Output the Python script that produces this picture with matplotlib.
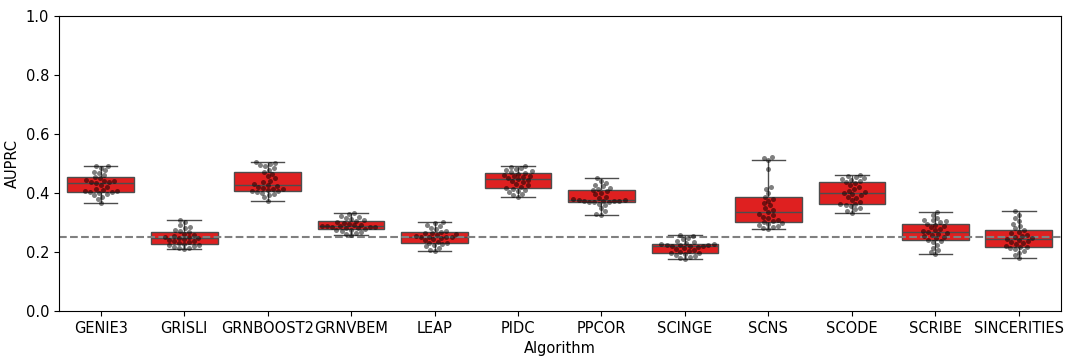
import matplotlib
matplotlib.use("Agg")
import matplotlib.pyplot as plt
import seaborn as sns
import pandas as pd

algorithms = ["GENIE3", "GRISLI", "GRNBOOST2", "GRNVBEM", "LEAP", "PIDC",
              "PPCOR", "SCINGE", "SCNS", "SCODE", "SCRIBE", "SINCERITIES"]

genie3 = [0.366, 0.380, 0.388, 0.392, 0.398, 0.400, 0.402, 0.403, 0.405, 0.408, 0.410, 0.415, 0.421, 0.428, 0.434,
          0.436, 0.438, 0.440, 0.442, 0.445, 0.450, 0.454, 0.462, 0.468, 0.472, 0.478, 0.485, 0.490, 0.492]
grisli = [0.210, 0.212, 0.215, 0.218, 0.220, 0.223, 0.225, 0.227, 0.230, 0.233, 0.236, 0.238, 0.240, 0.244, 0.247,
          0.248, 0.250, 0.252, 0.255, 0.258, 0.262, 0.268, 0.272, 0.276, 0.280, 0.285, 0.290, 0.300, 0.308]
grnboost2 = [0.373, 0.385, 0.392, 0.398, 0.401, 0.403, 0.405, 0.407, 0.410, 0.413, 0.415, 0.418, 0.420, 0.424, 0.427,
             0.430, 0.436, 0.442, 0.450, 0.458, 0.465, 0.471, 0.478, 0.484, 0.490, 0.494, 0.498, 0.502, 0.505]
grnvbem = [0.258, 0.262, 0.265, 0.268, 0.271, 0.274, 0.276, 0.278, 0.280, 0.281, 0.283, 0.284, 0.285, 0.287, 0.288,
           0.289, 0.291, 0.293, 0.296, 0.299, 0.302, 0.305, 0.308, 0.312, 0.315, 0.319, 0.323, 0.328, 0.332]
leap = [0.203, 0.208, 0.214, 0.219, 0.223, 0.226, 0.229, 0.231, 0.235, 0.240, 0.244, 0.248, 0.250, 0.250, 0.251,
        0.252, 0.254, 0.257, 0.260, 0.263, 0.265, 0.268, 0.272, 0.277, 0.282, 0.288, 0.293, 0.298, 0.302]
pidc = [0.387, 0.392, 0.398, 0.403, 0.407, 0.411, 0.414, 0.417, 0.421, 0.426, 0.431, 0.436, 0.440, 0.444, 0.447,
        0.450, 0.453, 0.456, 0.459, 0.462, 0.465, 0.468, 0.471, 0.474, 0.477, 0.480, 0.484, 0.488, 0.492]
ppcor = [0.326, 0.330, 0.338, 0.348, 0.358, 0.364, 0.368, 0.370, 0.371, 0.372, 0.372, 0.373, 0.374, 0.375, 0.376,
         0.378, 0.382, 0.388, 0.395, 0.401, 0.406, 0.410, 0.414, 0.418, 0.422, 0.427, 0.434, 0.442, 0.451]
scinge = [0.176, 0.180, 0.184, 0.187, 0.190, 0.193, 0.195, 0.197, 0.201, 0.205, 0.208, 0.211, 0.214, 0.217, 0.220,
          0.221, 0.222, 0.223, 0.224, 0.225, 0.226, 0.227, 0.230, 0.234, 0.238, 0.243, 0.248, 0.253, 0.258]
scns = [0.278, 0.282, 0.286, 0.289, 0.292, 0.296, 0.299, 0.302, 0.306, 0.310, 0.315, 0.320, 0.325, 0.330, 0.336,
        0.342, 0.350, 0.358, 0.366, 0.374, 0.380, 0.386, 0.400, 0.415, 0.420, 0.480, 0.510, 0.518, 0.522]
scode = [0.333, 0.340, 0.346, 0.350, 0.355, 0.358, 0.361, 0.364, 0.370, 0.376, 0.382, 0.388, 0.392, 0.396, 0.399,
         0.403, 0.408, 0.414, 0.420, 0.427, 0.433, 0.438, 0.441, 0.444, 0.447, 0.450, 0.453, 0.457, 0.461]
scribe = [0.193, 0.200, 0.208, 0.215, 0.225, 0.233, 0.238, 0.242, 0.246, 0.250, 0.254, 0.258, 0.261, 0.264, 0.267,
          0.270, 0.274, 0.278, 0.283, 0.288, 0.292, 0.296, 0.300, 0.304, 0.307, 0.310, 0.316, 0.325, 0.337]
sincerities = [0.180, 0.190, 0.198, 0.204, 0.209, 0.213, 0.216, 0.218, 0.222, 0.226, 0.230, 0.234, 0.237, 0.240, 0.243,
               0.246, 0.250, 0.254, 0.258, 0.263, 0.268, 0.274, 0.280, 0.288, 0.296, 0.305, 0.315, 0.327, 0.339]

random_baseline = 0.25

values = [genie3, grisli, grnboost2, grnvbem, leap, pidc, ppcor, scinge, scns, scode, scribe, sincerities]
rows = []
for alg, vals in zip(algorithms, values):
    for v in vals:
        rows.append((alg, v))
df = pd.DataFrame(rows, columns=["Algorithm", "AUPRC"])

fig = plt.figure(figsize=(10.8, 3.6), dpi=100)
ax = fig.add_axes([0.0546, 0.136, 0.9274, 0.820])
sns.boxplot(data=df, x="Algorithm", y="AUPRC", order=algorithms, color="red",
            showfliers=False, width=0.8, ax=ax)
ax.axhline(random_baseline, color="gray", linestyle="--", zorder=2.5)
sns.swarmplot(data=df, x="Algorithm", y="AUPRC", order=algorithms, color="black",
              alpha=0.5, size=3.6, ax=ax, zorder=3)
ax.set_ylim(0, 1.0)
ax.tick_params(labelsize=10.5)
ax.set_xlabel("Algorithm", fontsize=10.5)
ax.set_ylabel("AUPRC", fontsize=10.5)
fig.savefig("out.png", dpi=100)
